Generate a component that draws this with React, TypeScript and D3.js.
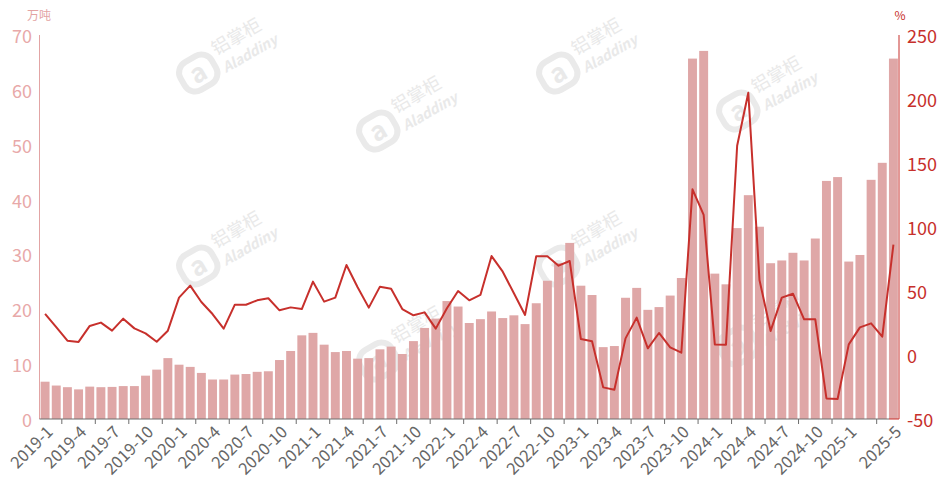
import React from "react";
import * as d3 from "d3";

const START_YEAR = 2019;
const N_MONTHS = 77;
const categories: string[] = Array.from({ length: N_MONTHS }, (_, i) => `${START_YEAR + Math.floor(i / 12)}-${(i % 12) + 1}`);

const volume: number[] = [
  6.8, 6.1, 5.8, 5.4, 5.9, 5.8, 5.85, 6.0, 6.0, 7.9, 9.0, 11.1,
  9.9, 9.5, 8.4, 7.2, 7.2, 8.1, 8.2, 8.6, 8.7, 10.75, 12.4, 15.25,
  15.7, 13.55, 12.2, 12.4, 11.0, 11.1, 12.7, 13.2, 11.85, 14.2, 16.6, 18.3,
  21.5, 20.5, 17.5, 18.2, 19.6, 18.4, 18.9, 17.3, 21.1, 25.2, 28.4, 32.1,
  24.3, 22.6, 13.1, 13.3, 22.1, 23.9, 19.9, 20.4, 22.5, 25.7, 65.7, 67.1,
  26.5, 24.55, 34.8, 40.8, 35.05, 28.4, 28.9, 30.3, 28.9, 32.9, 43.4, 44.1,
  28.7, 29.9, 43.6, 46.7, 65.7,
];

const yoy: number[] = [
  32.2, 21.7, 11.2, 10.2, 22.7, 25.3, 19.0, 28.4, 20.8, 16.9, 10.4, 19.0,
  44.8, 54.2, 41.4, 32.0, 20.6, 39.3, 39.3, 42.7, 44.3, 34.9, 37.2, 35.9,
  57.3, 41.7, 44.8, 70.3, 52.9, 37.0, 53.4, 51.8, 35.9, 31.0, 33.3, 20.6,
  36.5, 50.0, 42.7, 46.9, 77.3, 65.1, 48.2, 31.3, 77.1, 77.1, 69.8, 73.4,
  12.5, 10.7, -25.3, -27.1, 13.0, 29.2, 5.2, 17.2, 6.0, 1.8, 129.4, 109.4,
  8.3, 8.1, 163.5, 204.9, 58.6, 18.8, 44.8, 47.9, 27.9, 27.9, -33.9, -34.4,
  8.3, 21.6, 24.7, 14.3, 86.2,
];

const leftTicks: number[] = [0, 10, 20, 30, 40, 50, 60, 70];
const rightTicks: number[] = [-50, 0, 50, 100, 150, 200, 250];
const labelIndices: number[] = [0, 3, 6, 9, 12, 15, 18, 21, 24, 27, 30, 33, 36, 39, 42, 45, 48, 51, 54, 57, 60, 63, 66, 69, 72, 76];

const W = 940;
const H = 479;
const M = { left: 39.5, right: 899, top: 35, bottom: 419 };

// watermark logo centres (fully inside the picture)
const watermarkSpots: [number, number][] = [
  [200, 265], [380, 130], [560, 265], [740, 110], [380, 360], [740, 345], [200, 72], [560, 72],
];

export default function App() {
  const x = d3
    .scaleBand<number>()
    .domain(d3.range(N_MONTHS))
    .range([M.left, M.right])
    .paddingInner(0.2)
    .paddingOuter(0.1);
  const step = x.step();
  const x0 = M.left;
  const yL = d3.scaleLinear().domain([0, 70]).range([M.bottom, M.top]);
  const yR = d3.scaleLinear().domain([-50, 250]).range([M.bottom, M.top]);
  const cx = (i: number) => (x(i) as number) + x.bandwidth() / 2;

  const line = d3
    .line<number>()
    .x((_, i) => cx(i))
    .y((d) => yR(d));

  const font = "'Noto Sans CJK SC', 'Noto Sans', sans-serif";

  return (
    <div style={{ position: "fixed", left: 0, top: 0 }}>
      <svg width={W} height={H} style={{ display: "block", background: "#fff" }}>
        <g fontFamily={font} fill="#e9e9e9">
          {watermarkSpots.map(([wx, wy], k) => (
            <g key={k} transform={`translate(${wx},${wy}) rotate(-30)`}>
              <rect x={-20} y={-16} width={36} height={32} rx={12} fill="none" stroke="#eaeaea" strokeWidth={6} />
              <text x={-2} y={9} fontSize={26} fontWeight="bold" textAnchor="middle">a</text>
              <text x={22} y={-6} fontSize={18}>铝掌柜</text>
              <text x={22} y={14} fontSize={14} fontWeight="bold" fontStyle="italic">Aladdiny</text>
            </g>
          ))}
        </g>

        {volume.map((v, i) => (
          <rect
            key={i}
            x={x(i)}
            y={yL(v)}
            width={x.bandwidth()}
            height={yL(0) - yL(v)}
            fill="#dfa7a7"
          />
        ))}

        <path d={line(yoy) || ""} fill="none" stroke="#c7302c" strokeWidth={2} strokeLinejoin="round" />

        {/* left axis */}
        <line x1={M.left} x2={M.left} y1={M.top} y2={M.bottom} stroke="#e2a4a4" strokeWidth={1} />
        {leftTicks.map((t) => (
          <text
            key={t}
            x={32}
            y={yL(t)}
            textAnchor="end"
            dominantBaseline="central"
            fontSize={18}
            fill="#e8a9a9"
            fontFamily={font}
          >
            {t}
          </text>
        ))}
        <text x={39} y={14} fontSize={12} fill="#e3a3a3" fontFamily={font} textAnchor="middle" dominantBaseline="central">
          万吨
        </text>

        {/* right axis */}
        <line x1={M.right} x2={M.right} y1={M.top} y2={M.bottom} stroke="#c7302c" strokeWidth={1} />
        <line x1={M.right - 10} x2={M.right} y1={M.bottom} y2={M.bottom} stroke="#c7302c" strokeWidth={1} />
        {rightTicks.map((t) => (
          <text
            key={t}
            x={907}
            y={yR(t)}
            textAnchor="start"
            dominantBaseline="central"
            fontSize={18}
            fill="#c7302c"
            fontFamily={font}
          >
            {t}
          </text>
        ))}
        <text x={900} y={14} fontSize={12} fill="#c7302c" fontFamily={font} textAnchor="middle" dominantBaseline="central">
          %
        </text>

        {/* bottom axis */}
        <line x1={M.left} x2={M.right - 10} y1={M.bottom} y2={M.bottom} stroke="#6e6e6e" strokeWidth={1} />
        {labelIndices
          .filter((i) => i > 0)
          .map((i) => (
            <line
              key={i}
              x1={x0 + (i - 1) * step}
              x2={x0 + (i - 1) * step}
              y1={M.bottom}
              y2={M.bottom + 5}
              stroke="#6e6e6e"
            />
          ))}
        {labelIndices.map((i) => (
          <text
            key={i}
            transform={`translate(${cx(i) + 4},${M.bottom + 9}) rotate(-45)`}
            textAnchor="end"
            dominantBaseline="central"
            fontSize={16.5}
            fill="#666"
            fontFamily={font}
          >
            {categories[i]}
          </text>
        ))}
      </svg>
    </div>
  );
}
